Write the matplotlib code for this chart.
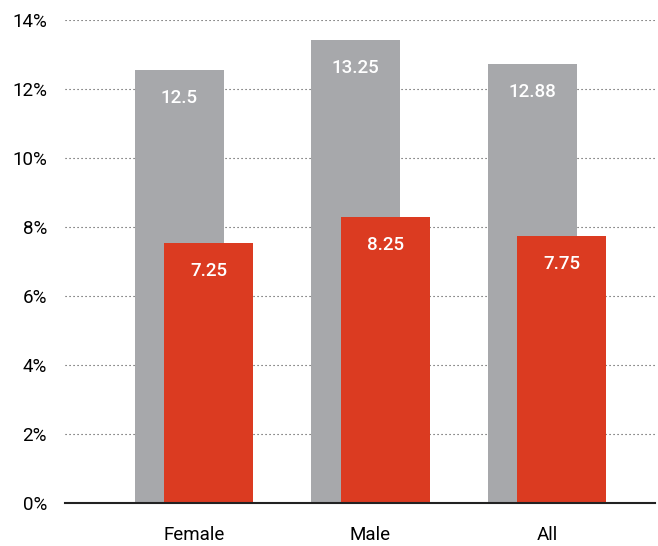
import matplotlib

matplotlib.use("Agg")

import matplotlib.pyplot as plt
import numpy as np

categories = ["Female", "Male", "All"]
# bar heights as drawn in the picture, and the labels printed on them
grey_heights = [12.55, 13.42, 12.73]
red_heights = [7.54, 8.30, 7.75]
grey_labels = ["12.5", "13.25", "12.88"]
red_labels = ["7.25", "8.25", "7.75"]
yticks = [0, 2, 4, 6, 8, 10, 12, 14]

GREY = "#a7a8ab"
RED = "#db3b21"

plt.rcParams["font.family"] = ["Roboto", "DejaVu Sans"]

fig = plt.figure(figsize=(6.58, 5.46), dpi=100)
ax = fig.add_axes([65 / 658, 42.7 / 546, 590 / 658, 483.3 / 546])

x = np.arange(len(categories))
width = 0.503
off = 0.0836

grey = ax.bar(x - off, grey_heights, width, color=GREY, zorder=2)
red = ax.bar(x + off, red_heights, width, color=RED, zorder=3)

for bars, labels in ((grey, grey_labels), (red, red_labels)):
    for b, lab in zip(bars, labels):
        ax.annotate(
            lab,
            (b.get_x() + b.get_width() / 2, b.get_height()),
            xytext=(0, -20),
            textcoords="offset points",
            ha="center",
            va="center",
            color="white",
            fontsize=13.5,
            fontweight="medium",
            zorder=4,
        )

ax.set_xlim(-0.731, 2.612)
ax.set_ylim(0, 14)
ax.set_yticks(yticks)
ax.set_yticklabels([f"{t}%" for t in yticks], fontsize=13.5)
ax.set_xticks(x)
ax.set_xticklabels(categories, fontsize=13.5)
ax.tick_params(axis="both", length=0)
ax.tick_params(axis="y", pad=13)
ax.tick_params(axis="x", pad=16)
ax.yaxis.grid(True, linestyle=(0, (1, 2.6)), color="#444444", linewidth=0.8, zorder=1)
ax.set_axisbelow(True)
for side in ("top", "right", "left"):
    ax.spines[side].set_visible(False)
ax.spines["bottom"].set_color("#222222")
ax.spines["bottom"].set_linewidth(1.5)
ax.spines["bottom"].set_zorder(5)

fig.savefig("out.png", dpi=100)
plt.close(fig)
